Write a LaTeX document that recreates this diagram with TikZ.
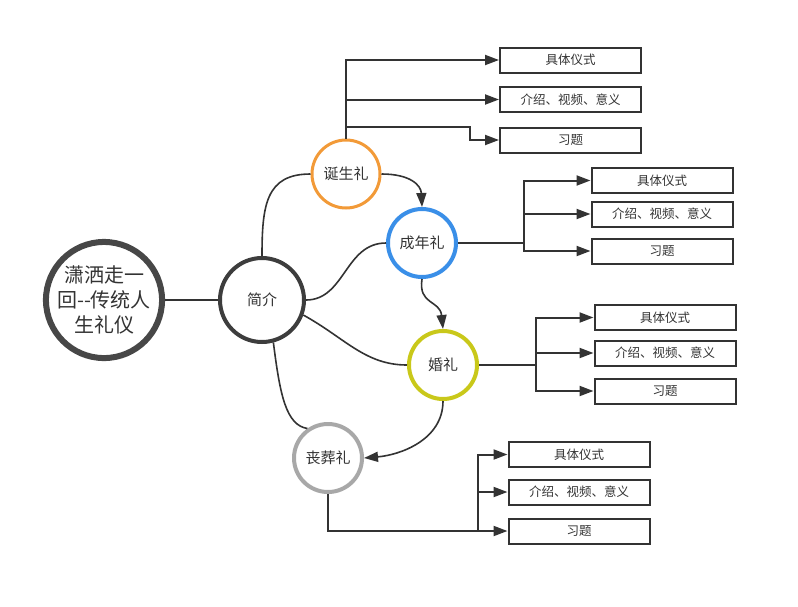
\documentclass[tikz,border=0pt]{standalone}
\usepackage{fontspec}
\newfontfamily\cjk{Noto Sans CJK SC}
\usetikzlibrary{arrows.meta}
\definecolor{ink}{HTML}{333333}
\definecolor{orangec}{HTML}{F29A38}
\definecolor{bluec}{HTML}{3A8FE8}
\definecolor{yelc}{HTML}{C9C81A}
\definecolor{grayc}{HTML}{A8A8A8}
\tikzset{
  topic/.style={circle, draw=#1, line width=3.5pt, fill=white, inner sep=0pt, font=\cjk\fontsize{15}{17}\selectfont, text=ink},
  leaf/.style={draw=ink, line width=2pt, fill=white, minimum width=141pt, minimum height=25pt, inner sep=0pt, font=\cjk\fontsize{12.5}{14}\selectfont, text=ink},
  conn/.style={draw=ink, line width=1.6pt},
  branch/.style={draw=ink, line width=2pt},
  arr/.style={-{Triangle[length=14pt,width=10pt]}},
}
\begin{document}
\begin{tikzpicture}[x=1pt,y=-1pt]
\useasboundingbox (0,0) rectangle (798,606);
% main nodes
\node[circle, draw=ink!90, line width=6pt, minimum size=112pt, inner sep=0pt, align=center, font=\cjk\fontsize{20}{25}\selectfont, text=ink] (main) at (104,300) {潇洒走一\\回-\kern0pt-传统人\\生礼仪};
\node[topic=ink!95, line width=4pt, minimum size=84pt] (intro) at (262,300) {简介};
\node[topic=orangec, line width=3pt, minimum size=68pt] (birth) at (346,174) {诞生礼};
\node[topic=bluec, line width=4pt, minimum size=68pt] (adult) at (422,243) {成年礼};
\node[topic=yelc, line width=4pt, minimum size=68pt] (wed) at (443,365) {婚礼};
\node[topic=grayc, line width=4pt, minimum size=68pt] (fun) at (328,458) {丧葬礼};
% leaves
\node[leaf] (b1) at (570.5,60) {具体仪式};
\node[leaf] (b2) at (570.5,99.5) {介绍、视频、意义};
\node[leaf] (b3) at (570.5,140) {习题};
\node[leaf] (a1) at (662,180.5) {具体仪式};
\node[leaf] (a2) at (662,214) {介绍、视频、意义};
\node[leaf] (a3) at (662,251) {习题};
\node[leaf] (w1) at (665,317.5) {具体仪式};
\node[leaf] (w2) at (665,353) {介绍、视频、意义};
\node[leaf] (w3) at (665,391) {习题};
\node[leaf] (f1) at (579,454.5) {具体仪式};
\node[leaf] (f2) at (579,492) {介绍、视频、意义};
\node[leaf] (f3) at (579,531) {习题};
% main connectors
\draw[conn] (main.east) -- (intro.west);
\draw[conn] (intro.north) .. controls (262,205) and (266,174) .. (birth.west);
\draw[conn] (intro.east) .. controls (345,300) and (345,243) .. (adult.west);
\draw[conn] (intro.-20) .. controls (345,338) and (365,365) .. (wed.west);
\draw[conn] (intro.-75) .. controls (280,395) and (286,425) .. (fun.125);
\draw[conn,arr] (birth.east) .. controls (410,174) and (421,185) .. (adult.north);
\draw[conn,arr] (adult.south) .. controls (418,305) and (440,300) .. (wed.north);
\draw[conn,arr] (wed.south) .. controls (443,440) and (400,455) .. (fun.east);
% birth branches
\coordinate (bj) at (346,99.5);
\draw[branch,arr] (birth.north) |- (b1.west);
\draw[branch,arr] (bj) -- (b2.west);
\draw[branch,arr] (346,127) -- (470,127) |- (b3.west);
% adult branches
\coordinate (aj) at (524,243);
\draw[branch] (adult.east) -- (aj);
\draw[branch,arr] (aj) |- (a1.west);
\draw[branch,arr] (aj) |- (a2.west);
\draw[branch,arr] (aj) |- (a3.west);
% wedding branches
\coordinate (wj) at (536,365);
\draw[branch] (wed.east) -- (wj);
\draw[branch,arr] (wj) |- (w1.west);
\draw[branch,arr] (wj) |- (w2.west);
\draw[branch,arr] (wj) |- (w3.west);
% funeral branches
\coordinate (fj) at (478,531);
\draw[branch] (fun.south) |- (fj);
\draw[branch,arr] (fj) |- (f1.west);
\draw[branch,arr] (fj) |- (f2.west);
\draw[branch,arr] (fj) -- (f3.west);
\end{tikzpicture}
\end{document}
